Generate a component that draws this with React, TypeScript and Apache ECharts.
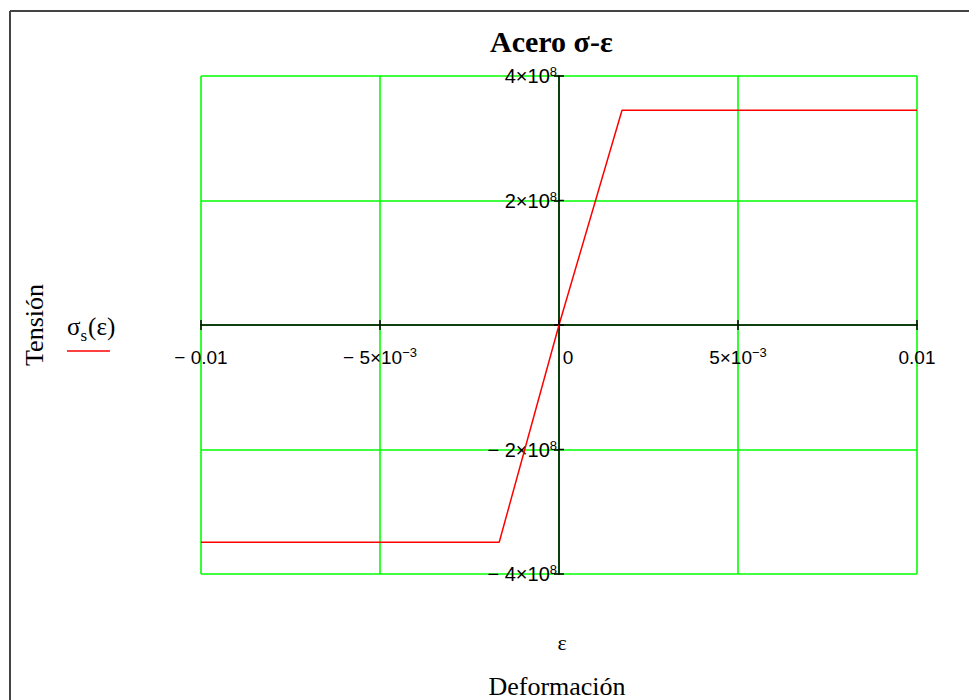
import React, { useEffect, useRef } from 'react';
import * as echarts from 'echarts';

// Strain ε and stress σs(ε)
const strain = [-0.01, -0.00167, 0, 0.00176, 0.01];
const stress = [-3.49e8, -3.49e8, 0, 3.45e8, 3.45e8];

// Tick values and their labels
const xTickValues = [-0.01, -0.005, 0, 0.005, 0.01];
const xTickLabels = ['{m|− 0.01}', '{m|− 5×10}{s|−3}', '{z|0}', '{m|5×10}{s|−3}', '{m|0.01}'];
const yTickValues = [-4e8, -2e8, 0, 2e8, 4e8];
const yTickLabels = ['{m|− 4×10}{s|8}', '{m|− 2×10}{s|8}', '', '{m|2×10}{s|8}', '{m|4×10}{s|8}'];

const titleText = 'Acero σ-ε';
const yName = 'Tensión';
const xSymbol = 'ε';
const xName = 'Deformación';

const SANS = '"Liberation Sans", Arial, sans-serif';
const SERIF = '"Liberation Serif", "Times New Roman", serif';

const pick = (vals: number[], labels: string[], v: number, tol: number) => {
  for (let i = 0; i < vals.length; i++) if (Math.abs(vals[i] - v) < tol) return labels[i];
  return '';
};

const richX = {
  m: { fontFamily: SANS, fontSize: 19, lineHeight: 22, color: '#000' },
  s: { fontFamily: SANS, fontSize: 13, lineHeight: 8, verticalAlign: 'top', color: '#000' },
  z: { fontFamily: SANS, fontSize: 19, lineHeight: 22, color: '#000', padding: [0, 0, 0, 18] },
};
const richY = {
  m: { fontFamily: SANS, fontSize: 20, lineHeight: 22, color: '#000' },
  s: { fontFamily: SANS, fontSize: 13, lineHeight: 8, verticalAlign: 'top', color: '#000' },
};

export default function App() {
  const ref = useRef<HTMLDivElement>(null);
  useEffect(() => {
    if (!ref.current) return;
    const chart = echarts.init(ref.current, undefined, { renderer: 'svg' });
    chart.setOption({
      animation: false,
      backgroundColor: '#fff',
      title: {
        text: titleText,
        left: 490,
        top: 26,
        padding: 0,
        textStyle: { fontFamily: SERIF, fontWeight: 'bold', fontSize: 30, color: '#000' },
      },
      grid: { left: 201, top: 76, right: 52, bottom: 126, containLabel: false },
      xAxis: {
        type: 'value',
        position: 'bottom',
        min: -0.01,
        max: 0.01,
        interval: 0.005,
        axisLine: { onZero: false, lineStyle: { color: '#000', width: 1.5 } },
        axisTick: { show: true, length: 5, lineStyle: { color: '#000', width: 1.5 } },
        axisLabel: {
          margin: 21,
          formatter: (v: number) => pick(xTickValues, xTickLabels, v, 1e-6),
          rich: richX,
        },
        splitLine: { show: true, lineStyle: { color: '#00ff00', width: 1.6 } },
      },
      yAxis: {
        type: 'value',
        position: 'left',
        min: -4e8,
        max: 4e8,
        interval: 2e8,
        axisLine: { onZero: false, lineStyle: { color: '#000', width: 1.5 } },
        axisTick: { show: true, length: 5, lineStyle: { color: '#000', width: 1.5 } },
        axisLabel: {
          margin: 2,
          formatter: (v: number) => pick(yTickValues, yTickLabels, v, 1),
          rich: richY,
        },
        splitLine: { show: true, lineStyle: { color: '#00ff00', width: 1.6 } },
      },
      series: [
        {
          type: 'line',
          name: 'σs(ε)',
          data: strain.map((e, i) => [e, stress[i]]),
          showSymbol: false,
          lineStyle: { color: '#ff0000', width: 1.5 },
          z: 5,
        },
      ],
      graphic: [
        { type: 'line', shape: { x1: 10, y1: 11, x2: 969, y2: 11 }, style: { stroke: '#444', lineWidth: 2 } },
        { type: 'line', shape: { x1: 10, y1: 11, x2: 10, y2: 700 }, style: { stroke: '#444', lineWidth: 2 } },
        {
          type: 'text',
          x: 34,
          y: 325,
          rotation: Math.PI / 2,
          style: {
            text: yName,
            fontFamily: SERIF,
            fontSize: 26,
            fill: '#000',
            textAlign: 'center',
            textVerticalAlign: 'middle',
          },
        },
        {
          type: 'text',
          x: 67,
          y: 314,
          style: {
            text: '{a|σ}{b|s}{a|(ε)}',
            rich: {
              a: { fontFamily: SERIF, fontSize: 25, lineHeight: 24, verticalAlign: 'top', fill: '#000' },
              b: { fontFamily: SERIF, fontSize: 17, lineHeight: 14, verticalAlign: 'top', padding: [13, 1, 0, 0], fill: '#000' },
            },
          },
        },
        { type: 'line', shape: { x1: 67, y1: 351, x2: 110, y2: 351 }, style: { stroke: '#ff0000', lineWidth: 1.5 } },
        {
          type: 'text',
          x: 562,
          y: 642,
          style: {
            text: xSymbol,
            fontFamily: SERIF,
            fontSize: 22,
            fill: '#000',
            textAlign: 'center',
            textVerticalAlign: 'middle',
          },
        },
        {
          type: 'text',
          x: 557,
          y: 686,
          style: {
            text: xName,
            fontFamily: SERIF,
            fontSize: 26,
            fill: '#000',
            textAlign: 'center',
            textVerticalAlign: 'middle',
          },
        },
      ],
    });
    // Move both axes (line, ticks, labels) onto the zero lines, located through the chart's own scales
    const p0 = chart.convertToPixel({ gridIndex: 0 }, [0, 0]) as number[];
    const pMin = chart.convertToPixel({ gridIndex: 0 }, [-0.01, -4e8]) as number[];
    chart.setOption({
      xAxis: { offset: -(pMin[1] - p0[1]) },
      yAxis: { offset: -(p0[0] - pMin[0]) },
    });
    // inner halves of the ticks (the axis ticks cross the axis line)
    const tickEls: any[] = [];
    xTickValues.forEach((v) => {
      const p = chart.convertToPixel({ gridIndex: 0 }, [v, 0]) as number[];
      tickEls.push({ type: 'line', z: 10, shape: { x1: p[0], y1: p[1] - 5, x2: p[0], y2: p[1] }, style: { stroke: '#000', lineWidth: 1.5 } });
    });
    yTickValues.forEach((v) => {
      const p = chart.convertToPixel({ gridIndex: 0 }, [0, v]) as number[];
      tickEls.push({ type: 'line', z: 10, shape: { x1: p[0], y1: p[1], x2: p[0] + 5, y2: p[1] }, style: { stroke: '#000', lineWidth: 1.5 } });
    });
    chart.setOption({ graphic: tickEls.map((el, i) => ({ id: 'tick' + i, ...el })) });
    return () => chart.dispose();
  }, []);
  return <div ref={ref} style={{ position: 'absolute', left: 0, top: 0, width: 969, height: 700 }} />;
}
